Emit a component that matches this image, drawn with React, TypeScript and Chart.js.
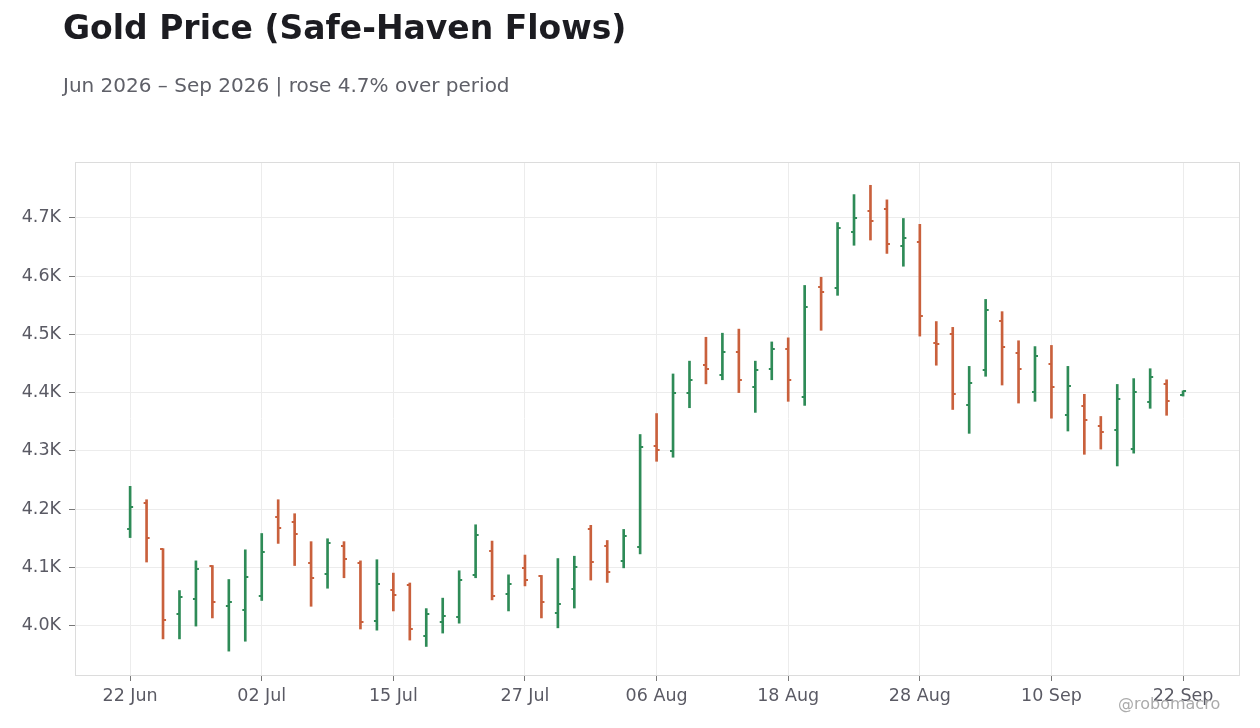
import React, { useEffect, useRef } from "react";
import { Chart, registerables } from "chart.js";

Chart.register(...registerables);

const TITLE = "Gold Price (Safe-Haven Flows)";
const SUBTITLE = "Jun 2026 – Sep 2026 | rose 4.7% over period";
const WATERMARK = "@robomacro";

const DATES = [
  "22 Jun", "23 Jun", "24 Jun", "25 Jun", "26 Jun", "29 Jun", "30 Jun",
  "01 Jul", "02 Jul", "06 Jul", "07 Jul", "08 Jul", "09 Jul", "10 Jul",
  "13 Jul", "14 Jul", "15 Jul", "16 Jul", "17 Jul", "20 Jul", "21 Jul",
  "22 Jul", "23 Jul", "24 Jul", "27 Jul", "28 Jul", "29 Jul", "30 Jul",
  "31 Jul", "03 Aug", "04 Aug", "05 Aug", "06 Aug", "07 Aug", "10 Aug",
  "11 Aug", "12 Aug", "13 Aug", "14 Aug", "17 Aug", "18 Aug", "19 Aug",
  "20 Aug", "21 Aug", "24 Aug", "25 Aug", "26 Aug", "27 Aug", "28 Aug",
  "31 Aug", "01 Sep", "02 Sep", "03 Sep", "04 Sep", "08 Sep", "09 Sep",
  "10 Sep", "11 Sep", "14 Sep", "15 Sep", "16 Sep", "17 Sep", "18 Sep",
  "21 Sep", "22 Sep",
];

const OPEN = [
  4165, 4211, 4131, 4019, 4045, 4102, 4033, 4026, 4050, 4187,
  4177, 4107, 4088, 4136, 4107, 4007, 4061, 4069, 3982, 4006,
  4014, 4087, 4128, 4054, 4099, 4085, 4022, 4063, 4166, 4137,
  4111, 4135, 4308, 4299, 4400, 4448, 4431, 4469, 4409, 4441,
  4474, 4392, 4581, 4579, 4675, 4711, 4716, 4651, 4658, 4485,
  4500, 4378, 4438, 4523, 4468, 4401, 4449, 4361, 4377, 4342,
  4335, 4303, 4383, 4414, 4395,
];
const HIGH = [
  4239, 4216, 4132, 4060, 4111, 4103, 4079, 4130, 4158, 4216,
  4192, 4144, 4149, 4144, 4111, 4113, 4090, 4073, 4029, 4047,
  4094, 4173, 4145, 4087, 4121, 4086, 4115, 4119, 4172, 4146,
  4165, 4328, 4364, 4432, 4454, 4495, 4502, 4509, 4454, 4487,
  4494, 4584, 4598, 4692, 4740, 4756, 4731, 4699, 4689, 4522,
  4512, 4445, 4560, 4539, 4489, 4479, 4481, 4445, 4397, 4359,
  4414, 4424, 4441, 4422, 4403,
];
const LOW = [
  4151, 4109, 3977, 3977, 3999, 4013, 3956, 3973, 4043, 4141,
  4103, 4033, 4064, 4082, 3994, 3992, 4025, 3975, 3964, 3987,
  4004, 4082, 4044, 4025, 4068, 4013, 3996, 4030, 4078, 4074,
  4099, 4123, 4282, 4289, 4374, 4415, 4422, 4400, 4366, 4422,
  4385, 4378, 4507, 4567, 4653, 4662, 4639, 4617, 4497, 4447,
  4371, 4330, 4428, 4413, 4382, 4385, 4356, 4334, 4294, 4303,
  4274, 4296, 4373, 4361, 4394,
];
const CLOSE = [
  4203, 4150, 4009, 4049, 4097, 4040, 4040, 4083, 4126, 4168,
  4158, 4082, 4141, 4114, 4006, 4071, 4052, 3994, 4019, 4016,
  4079, 4155, 4050, 4072, 4079, 4041, 4037, 4101, 4109, 4092,
  4154, 4306, 4301, 4400, 4421, 4441, 4469, 4421, 4438, 4474,
  4421, 4547, 4572, 4682, 4699, 4695, 4655, 4665, 4531, 4483,
  4397, 4416, 4541, 4478, 4440, 4462, 4409, 4411, 4353, 4333,
  4389, 4401, 4426, 4385, 4402,
];

const Y_TICKS = [4000, 4100, 4200, 4300, 4400, 4500, 4600, 4700];
const X_TICK_INDEXES = [0, 8, 16, 24, 32, 40, 48, 56, 64];

const UP_COLOR = "#2e8b57";
const DOWN_COLOR = "#c9603c";
const FONT = "'DejaVu Sans', sans-serif";

function makeTick(color: string, side: "open" | "close"): HTMLCanvasElement {
  const c = document.createElement("canvas");
  c.width = 8;
  c.height = 2;
  const ctx = c.getContext("2d")!;
  ctx.fillStyle = color;
  if (side === "open") ctx.fillRect(1, 0, 3, 2);
  else ctx.fillRect(4, 0, 3, 2);
  return c;
}

export default function App() {
  const canvasRef = useRef<HTMLCanvasElement | null>(null);

  useEffect(() => {
    const canvas = canvasRef.current;
    if (!canvas) return;

    const up = CLOSE.map((c, i) => c >= OPEN[i]);
    const barColors = up.map((u) => (u ? UP_COLOR : DOWN_COLOR));
    const openUp = makeTick(UP_COLOR, "open");
    const openDown = makeTick(DOWN_COLOR, "open");
    const closeUp = makeTick(UP_COLOR, "close");
    const closeDown = makeTick(DOWN_COLOR, "close");

    const borderPlugin = {
      id: "plotBorder",
      beforeDatasetsDraw(chart: any) {
        const { ctx, chartArea } = chart;
        ctx.save();
        ctx.strokeStyle = "#dcdcdc";
        ctx.lineWidth = 1;
        ctx.strokeRect(
          Math.round(chartArea.left) + 0.5,
          Math.round(chartArea.top) + 0.5,
          Math.round(chartArea.right - chartArea.left),
          Math.round(chartArea.bottom - chartArea.top)
        );
        ctx.restore();
      },
    };

    const chart = new Chart(canvas, {
      type: "scatter",
      data: {
        datasets: [
          {
            type: "bar",
            label: "High-Low",
            data: DATES.map((_, i) => ({ x: i, y: [LOW[i], HIGH[i]] })) as any,
            backgroundColor: barColors,
            borderWidth: 0,
            barThickness: 2,
            grouped: false,
          } as any,
          {
            type: "scatter",
            label: "Open",
            data: DATES.map((_, i) => ({ x: i, y: OPEN[i] })),
            pointStyle: up.map((u) => (u ? openUp : openDown)) as any,
            pointRadius: 3,
            pointHoverRadius: 3,
          },
          {
            type: "scatter",
            label: "Close",
            data: DATES.map((_, i) => ({ x: i, y: CLOSE[i] })),
            pointStyle: up.map((u) => (u ? closeUp : closeDown)) as any,
            pointRadius: 3,
            pointHoverRadius: 3,
          },
        ],
      },
      options: {
        animation: false,
        responsive: false,
        events: [],
        layout: { padding: { left: 0, top: 162, right: 21, bottom: 0 } },
        plugins: {
          legend: { display: false },
          tooltip: { enabled: false },
          title: { display: false },
        },
        scales: {
          x: {
            type: "linear",
            min: -3.35,
            max: 67.4,
            offset: false,
            afterBuildTicks: (scale: any) => {
              scale.ticks = X_TICK_INDEXES.map((v) => ({ value: v }));
            },
            afterFit: (scale: any) => {
              scale.height = 53;
            },
            grid: {
              offset: false,
              color: "#ececec",
              tickColor: "#777777",
              tickLength: 6,
              lineWidth: 1,
            },
            border: { display: false },
            ticks: {
              autoSkip: false,
              maxRotation: 0,
              padding: 5,
              color: "#5a5a64",
              font: { family: FONT, size: 17.5 },
              callback: (v: any) => DATES[Math.round(Number(v))] ?? "",
            },
          },
          y: {
            type: "linear",
            min: 3915,
            max: 4796,
            afterBuildTicks: (scale: any) => {
              scale.ticks = Y_TICKS.map((v) => ({ value: v }));
            },
            afterFit: (scale: any) => {
              scale.width = 75;
            },
            grid: {
              color: "#ececec",
              tickColor: "#777777",
              tickLength: 6,
              lineWidth: 1,
            },
            border: { display: false },
            ticks: {
              padding: 8,
              color: "#5a5a64",
              font: { family: FONT, size: 17.5 },
              callback: (v: any) => (Number(v) / 1000).toFixed(1) + "K",
            },
          },
        },
      },
      plugins: [borderPlugin],
    });

    return () => {
      chart.destroy();
    };
  }, []);

  return (
    <div
      style={{
        position: "fixed",
        left: 0,
        top: 0,
        width: 1260,
        height: 728,
        background: "#ffffff",
        overflow: "hidden",
        fontFamily: FONT,
      }}
    >
      <canvas
        ref={canvasRef}
        width={1260}
        height={728}
        style={{ position: "absolute", left: 0, top: 0, width: 1260, height: 728 }}
      />
      <div
        style={{
          position: "absolute",
          left: 63,
          top: 11,
          fontSize: 33,
          lineHeight: "33px",
          fontWeight: "bold",
          color: "#1c1c21",
          whiteSpace: "nowrap",
        }}
      >
        {TITLE}
      </div>
      <div
        style={{
          position: "absolute",
          left: 63,
          top: 75,
          fontSize: 20,
          lineHeight: "20px",
          color: "#5f6068",
          whiteSpace: "nowrap",
        }}
      >
        {SUBTITLE}
      </div>
      <div
        style={{
          position: "absolute",
          left: 1118,
          top: 696,
          fontSize: 16,
          lineHeight: "16px",
          color: "#ababab",
          whiteSpace: "nowrap",
        }}
      >
        {WATERMARK}
      </div>
    </div>
  );
}
